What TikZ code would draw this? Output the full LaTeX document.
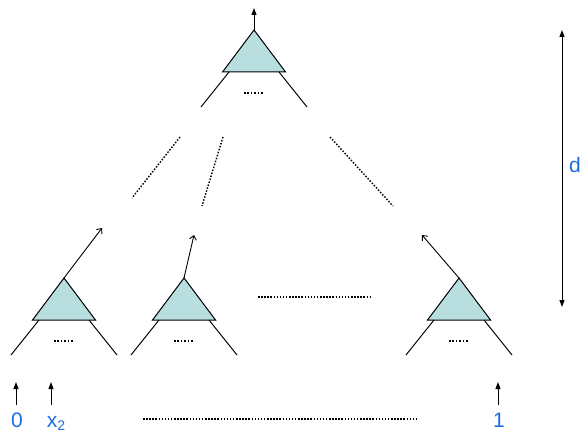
\documentclass[tikz,border=0pt]{standalone}
\usepackage{fontspec}
\setmainfont{Liberation Sans}
\usetikzlibrary{arrows.meta}
\definecolor{tfill}{RGB}{184,222,224}
\definecolor{lblue}{RGB}{25,110,225}
\tikzset{
  tree/.pic={
    \coordinate (-apex) at (0,0);
    \fill[tfill] (0,0) -- (-31.5,42) -- (31.5,42) -- cycle;
    \draw[line width=1pt] (0,0) -- (-31.5,42) -- (31.5,42) -- cycle;
    \draw[line width=1pt] (-25,42) -- (-53,77);
    \draw[line width=1pt] (25,42) -- (53,77);
    \draw[line width=1.3pt, dash pattern=on 1.5pt off 1.9pt] (-10,63) -- (10,63);
  },
  dotline/.style={line width=1.4pt, dash pattern=on 1.5pt off 1.6pt},
  outarrow/.style={line width=0.9pt, -{Straight Barb[length=4pt,width=7pt]}},
  uparrow/.style={line width=1pt, -{Stealth[length=7pt,width=5pt,inset=0pt]}},
  lbl/.style={text=lblue, font=\fontsize{21}{24}\selectfont, inner sep=0pt, anchor=base}
}
\begin{document}
\begin{tikzpicture}[x=1pt,y=-1pt]
\useasboundingbox (0,0) rectangle (581,433);
% trees
\pic (top) at (254,30) {tree};
\pic (ta) at (64,278) {tree};
\pic (tb) at (184,278) {tree};
\pic (tc) at (459,278) {tree};
% outputs
\coordinate (otop) at (254,8);
\coordinate (oa) at (102,228);
\coordinate (ob) at (194,235);
\coordinate (oc) at (422,235);
\draw[uparrow] (top-apex) -- (otop);
\draw[outarrow] (ta-apex) -- (oa);
\draw[outarrow] (tb-apex) -- (ob);
\draw[outarrow] (tc-apex) -- (oc);
% dotted links between levels
\coordinate (d1s) at (180,137); \coordinate (d1e) at (132,198);
\coordinate (d2s) at (223,137); \coordinate (d2e) at (202,206);
\coordinate (d3s) at (330,137); \coordinate (d3e) at (393,206);
\draw[dotline] (d1s) -- (d1e);
\draw[dotline] (d2s) -- (d2e);
\draw[dotline] (d3s) -- (d3e);
% middle horizontal dotted
\coordinate (hm1) at (258,297); \coordinate (hm2) at (372,297);
\draw[dotline] (hm1) -- (hm2);
% inputs
\node[lbl] (n0) at (17,427) {0};
\node[lbl] (nx) at (56,427) {x\raisebox{-0.3ex}{\fontsize{14}{16}\selectfont 2}};
\node[lbl] (n1) at (499,427) {1};
\coordinate (a0s) at (16,405); \coordinate (a0e) at (16,382);
\coordinate (axs) at (51,405); \coordinate (axe) at (51,382);
\coordinate (a1s) at (498,405); \coordinate (a1e) at (498,382);
\draw[uparrow] (a0s) -- (a0e);
\draw[uparrow] (axs) -- (axe);
\draw[uparrow] (a1s) -- (a1e);
\coordinate (hb1) at (143,419); \coordinate (hb2) at (418,419);
\draw[dotline] (hb1) -- (hb2);
% depth
\coordinate (dtop) at (562,30); \coordinate (dbot) at (562,307);
\draw[line width=1pt, {Stealth[length=7pt,width=5pt,inset=0pt]}-{Stealth[length=7pt,width=5pt,inset=0pt]}] (dtop) -- (dbot);
\node[lbl, anchor=center] (nd) at (575,165) {d};
\end{tikzpicture}
\end{document}
